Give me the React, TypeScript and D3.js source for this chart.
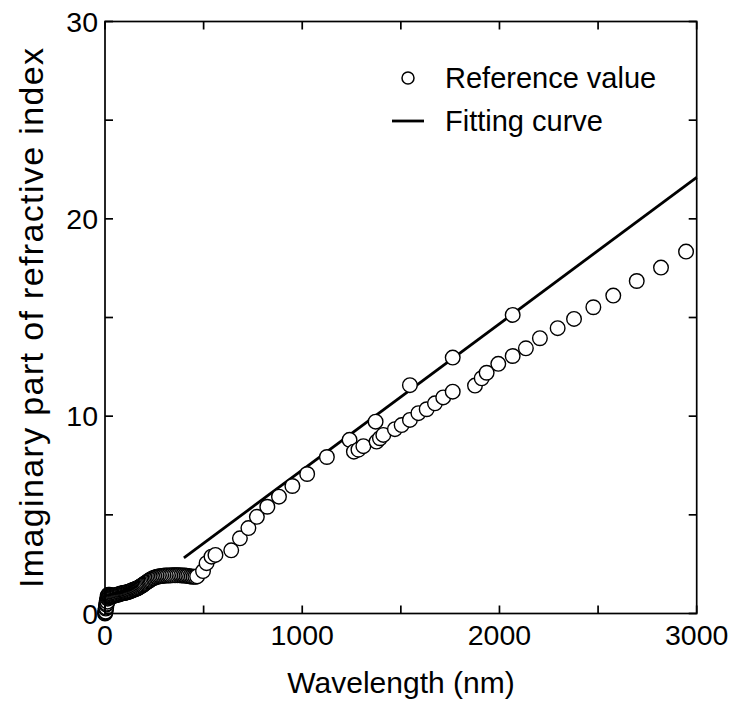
import React from "react";
import * as d3 from "d3";

const W = 735;
const H = 703;

// Reference values (wavelength nm, imaginary part k)
const refWavelength = [
  0, 1, 2, 3, 4, 5, 6, 7, 8, 9, 10, 11, 12, 13, 14, 15, 16, 17, 18, 20, 22, 24,
  26, 28, 30, 33, 36, 40, 45, 50, 55, 60, 65, 70, 75, 80,
  85, 90, 95, 100, 105, 110, 115, 120, 125, 130, 135, 140, 145, 150, 155, 160,
  165, 170, 175, 180, 185, 190, 195, 200, 206, 212, 218, 224, 230, 236, 243,
  250, 257, 264, 272, 280, 288, 296, 305, 314, 323, 332, 341, 350, 359, 368,
  377, 386, 395, 404, 413, 422, 431, 440, 449, 458, 467,
  497, 515, 540, 560, 640, 684, 727, 770, 823, 882, 950, 1025, 1125, 1240,
  1262, 1285, 1310, 1372, 1377, 1394, 1411, 1470, 1504, 1546, 1546, 1589,
  1631, 1673, 1715, 1763, 1763, 1876, 1910, 1935, 1994, 2067, 2067, 2134,
  2205, 2295, 2378, 2476, 2577, 2696, 2819, 2946,
];
const refK = [
  0.0, 0.05, 0.15, 0.1, 0.25, 0.35, 0.3, 0.45, 0.55, 0.5, 0.65, 0.7, 0.6, 0.85,
  0.75, 0.9, 0.8, 0.95, 0.85, 0.92, 0.85, 0.95, 0.86, 0.92, 0.86, 0.9, 0.87,
  0.88, 0.9, 0.92,
  0.93, 0.94, 0.95, 0.97, 0.99, 1.0, 1.02, 1.03, 1.04, 1.05, 1.06, 1.07, 1.08,
  1.1, 1.12, 1.14, 1.16, 1.18, 1.2, 1.22, 1.24, 1.26, 1.28, 1.31, 1.34, 1.37,
  1.4, 1.43, 1.47, 1.51, 1.55, 1.59, 1.63, 1.67, 1.71, 1.75, 1.78, 1.81, 1.84,
  1.86, 1.88, 1.89, 1.9, 1.91, 1.92, 1.92, 1.93, 1.93, 1.94, 1.94, 1.94, 1.94,
  1.94, 1.93, 1.93, 1.92, 1.91, 1.9, 1.88, 1.87, 1.86, 1.86, 1.88,
  2.15, 2.55, 2.88, 2.97, 3.2, 3.81, 4.33, 4.9, 5.41, 5.92, 6.46, 7.07, 7.93,
  8.8, 8.2, 8.3, 8.48, 9.72, 8.71, 8.88, 9.05, 9.34, 9.55, 9.81, 11.57, 10.15,
  10.35, 10.65, 10.95, 11.24, 12.97, 11.55, 11.92, 12.2, 12.65, 13.05, 15.13,
  13.44, 13.95, 14.46, 14.93, 15.52, 16.11, 16.85, 17.53, 18.34,
];

// Fitting curve
const fitWavelength = [400, 3000];
const fitK = [2.82, 22.1];

const xTicks = [0, 500, 1000, 1500, 2000, 2500, 3000];
const xTickLabels = ["0", "", "1000", "", "2000", "", "3000"];
const yTicks = [0, 5, 10, 15, 20, 25, 30];
const yTickLabels = ["0", "", "10", "", "20", "", "30"];

const legendLabels = ["Reference value", "Fitting curve"];

const FONT = "Arial, 'Liberation Sans', Helvetica, sans-serif";

export default function App() {
  const left = 105;
  const right = 696.7;
  const top = 21.5;
  const bottom = 613.5;
  const x = d3.scaleLinear().domain([0, 3000]).range([left, right]);
  const y = d3.scaleLinear().domain([0, 30]).range([bottom, top]);

  const fitPts = fitWavelength.map((w, i) => [w, fitK[i]] as [number, number]);
  const line = d3
    .line<[number, number]>()
    .x((d) => x(d[0]))
    .y((d) => y(d[1]));

  const tickLen = 8;
  const axisW = 1.7;

  return (
    <svg
      width={W}
      height={H}
      style={{ position: "absolute", left: 0, top: 0, background: "#fff" }}
      fontFamily={FONT}
    >
      <rect x={0} y={0} width={W} height={H} fill="#fff" />
      {/* fitting curve */}
      <path d={line(fitPts) || ""} fill="none" stroke="#000" strokeWidth={2.8} />
      {/* reference points */}
      {refWavelength.map((w, i) => (
        <circle
          key={i}
          cx={x(w)}
          cy={y(refK[i])}
          r={7.3}
          fill="#fff"
          stroke="#000"
          strokeWidth={1.4}
        />
      ))}
      {/* frame */}
      <rect
        x={left}
        y={top}
        width={right - left}
        height={bottom - top}
        fill="none"
        stroke="#000"
        strokeWidth={axisW}
      />
      {/* x ticks */}
      {xTicks.map((t, i) => (
        <g key={"xt" + i}>
          <line x1={x(t)} x2={x(t)} y1={bottom} y2={bottom - tickLen} stroke="#000" strokeWidth={axisW} />
          <line x1={x(t)} x2={x(t)} y1={top} y2={top + tickLen} stroke="#000" strokeWidth={axisW} />
          {xTickLabels[i] && (
            <text x={x(t)} y={645} textAnchor="middle" fontSize={28.5} fill="#000">
              {xTickLabels[i]}
            </text>
          )}
        </g>
      ))}
      {/* y ticks */}
      {yTicks.map((t, i) => (
        <g key={"yt" + i}>
          <line x1={left} x2={left + tickLen} y1={y(t)} y2={y(t)} stroke="#000" strokeWidth={axisW} />
          <line x1={right} x2={right - tickLen} y1={y(t)} y2={y(t)} stroke="#000" strokeWidth={axisW} />
          {yTickLabels[i] && (
            <text x={left - 7} y={y(t)} dy="0.36em" textAnchor="end" fontSize={28.5} fill="#000">
              {yTickLabels[i]}
            </text>
          )}
        </g>
      ))}
      {/* axis titles */}
      <text x={401} y={693} textAnchor="middle" fontSize={30} fill="#000">
        Wavelength (nm)
      </text>
      <text
        transform={`translate(43, ${318}) rotate(-90)`}
        textAnchor="middle"
        fontSize={34}
        textLength={540}
        lengthAdjust="spacing"
        fill="#000"
      >
        Imaginary part of refractive index
      </text>
      {/* legend */}
      <circle cx={408} cy={78} r={6} fill="#fff" stroke="#000" strokeWidth={1.5} />
      <text x={445} y={88} fontSize={29} fill="#000">
        {legendLabels[0]}
      </text>
      <line x1={392} x2={424} y1={121} y2={121} stroke="#000" strokeWidth={2.8} />
      <text x={445} y={131} fontSize={29} fill="#000">
        {legendLabels[1]}
      </text>
    </svg>
  );
}
